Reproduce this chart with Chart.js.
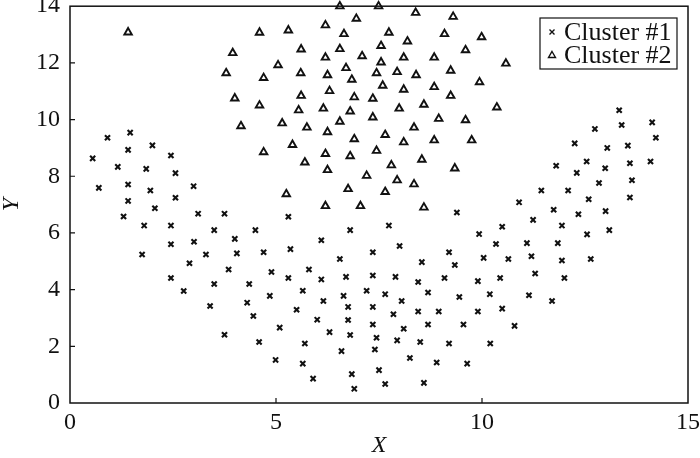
<!DOCTYPE html>
<html>
<head>
<meta charset="utf-8">
<script src="https://cdn.jsdelivr.net/npm/chart.js@4/dist/chart.umd.min.js"></script>
<style>
html,body{margin:0;padding:0;background:#fff;}
#wrap{width:700px;height:458px;}
</style>
</head>
<body>
<div id="wrap"><canvas id="c" width="700" height="458"></canvas></div>
<script>
const seriesLabels = ['Cluster #1', 'Cluster #2'];
const xTicks = [0, 5, 10, 15];
const yTicks = [0, 2, 4, 6, 8, 10, 12, 14];

const cluster1X = [0.91,1.46,1.41,2.00,0.55,2.45,1.16,1.85,2.56,0.70,1.41,1.95,3.00,1.41,2.56,2.06,
1.30,3.11,3.75,1.80,2.45,3.50,4.50,2.45,3.01,4.00,1.75,3.30,4.05,4.70,2.90,3.85,4.89,2.45,3.50,4.35,2.76,4.30,4.85,3.40,4.45,5.09,3.75,4.59,4.99,
5.30,6.80,7.74,9.39,9.93,6.10,5.35,7.35,8.00,9.20,10.04,6.55,8.54,9.34,5.80,5.30,6.10,6.70,7.35,7.90,8.45,9.09,9.90,5.65,6.64,7.20,7.65,8.69,9.45,10.19,6.15,8.05,5.50,6.75,7.35,8.45,8.95,9.90,7.85,6.00,6.75,7.35,8.10,8.69,9.55,6.30,6.80,7.44,7.94,8.50,9.20,10.20,5.70,6.59,7.40,5.65,8.25,8.90,9.64,5.90,6.84,7.50,7.65,8.59,6.90,
10.90,11.74,12.34,13.00,11.24,10.49,11.94,12.55,13.09,10.34,11.09,11.84,10.64,11.20,11.94,12.64,10.44,11.29,12.00,11.14,11.70,10.49,10.79,
13.33,13.39,14.13,14.22,12.74,12.25,13.04,13.54,11.80,12.54,12.99,13.59,14.09,12.30,12.84,13.64,11.44,12.09,12.59,13.59];
const cluster1Y = [9.36,9.54,8.93,9.09,8.63,8.73,8.33,8.26,8.11,7.59,7.71,7.50,7.65,7.13,7.24,6.87,
6.58,6.68,6.68,6.26,6.26,6.10,6.10,5.60,5.69,5.79,5.24,5.24,5.28,5.32,4.93,4.71,4.62,4.41,4.20,4.20,3.95,3.54,3.78,3.42,3.07,2.66,2.41,2.15,1.52,
6.57,6.10,6.26,6.72,5.96,5.74,5.43,5.32,5.54,5.32,5.12,5.08,4.97,4.87,4.71,4.41,4.36,4.45,4.50,4.45,4.27,4.41,4.30,3.96,3.78,3.96,3.84,3.90,3.74,3.84,3.60,3.60,3.29,3.39,3.39,3.23,3.23,3.23,3.13,2.94,2.93,2.77,2.62,2.77,2.77,2.50,2.40,2.30,2.21,2.15,2.10,2.10,2.10,1.83,1.89,1.39,1.59,1.43,1.39,0.86,1.02,1.16,0.67,0.71,0.50,
7.08,6.82,6.66,6.77,6.46,6.22,6.26,5.95,6.10,5.61,5.64,5.64,5.08,5.18,5.03,5.08,4.41,4.57,4.41,3.80,3.60,3.33,2.72,
10.33,9.81,9.90,9.36,9.67,9.16,9.00,9.08,8.37,8.52,8.28,8.46,8.52,8.12,7.76,7.86,7.50,7.50,7.19,7.25];

const cluster2X = [1.41,4.60,3.95,5.05,3.79,4.70,4.00,4.60,4.15,5.15,4.70,
6.55,7.49,8.39,9.30,6.95,5.30,6.20,6.65,7.74,9.09,9.99,8.19,5.61,6.55,7.55,9.60,6.20,7.09,8.10,8.84,7.55,5.60,6.25,6.70,7.44,7.94,8.40,9.24,6.84,7.59,8.10,8.84,9.94,5.61,6.30,6.90,7.35,9.24,5.55,6.15,6.80,7.99,8.59,7.35,5.75,6.55,6.25,8.35,8.95,9.60,5.40,6.90,7.65,8.10,8.84,9.75,6.20,6.80,7.44,5.70,6.25,7.80,8.54,9.34,7.20,7.94,8.35,6.75,7.65,5.25,6.20,7.05,8.59,10.58,10.36];
const cluster2Y = [13.08,13.07,12.35,11.92,11.64,11.47,10.75,10.50,9.77,9.87,8.85,
14.00,14.00,13.77,13.63,13.56,13.15,13.33,13.02,13.07,13.02,12.91,12.76,12.48,12.49,12.60,12.45,12.19,12.24,12.19,12.19,12.02,11.64,11.57,11.82,11.64,11.68,11.57,11.73,11.41,11.20,11.06,11.15,11.32,10.84,11.01,10.79,10.74,10.84,10.33,10.39,10.29,10.39,10.53,10.08,9.72,9.93,9.56,9.72,10.03,9.98,9.11,9.31,9.46,9.20,9.27,9.27,8.79,8.71,8.90,8.49,8.22,8.39,8.59,8.28,8.02,7.86,7.72,7.55,7.45,7.37,6.95,6.95,6.90,11.98,10.43];

const toPts = (xs, ys) => xs.map((x, i) => ({x: x, y: ys[i]}));
const INK = '#111';
const FONT = "'Liberation Serif', 'DejaVu Serif', serif";

const framePlugin = {
  id: 'frame',
  afterDraw(chart) {
    const ctx = chart.ctx, a = chart.chartArea;
    const xs = chart.scales.x, ys = chart.scales.y;
    ctx.save();
    ctx.strokeStyle = INK;
    ctx.lineWidth = 1.5;
    ctx.strokeRect(a.left, a.top, a.right - a.left, a.bottom - a.top);
    ctx.lineWidth = 1.2;
    ctx.beginPath();
    xTicks.forEach(v => {
      if (v === xTicks[0] || v === xTicks[xTicks.length - 1]) return;
      const px = xs.getPixelForValue(v);
      ctx.moveTo(px, a.bottom); ctx.lineTo(px, a.bottom - 5);
    });
    yTicks.forEach(v => {
      if (v === yTicks[0] || v === yTicks[yTicks.length - 1]) return;
      const py = ys.getPixelForValue(v);
      ctx.moveTo(a.left, py); ctx.lineTo(a.left + 5, py);
    });
    ctx.stroke();

    // legend box
    const bx = 540, by = 18, bw = 137, bh = 51;
    ctx.fillStyle = '#fff';
    ctx.fillRect(bx, by, bw, bh);
    ctx.lineWidth = 1.2;
    ctx.strokeRect(bx, by, bw, bh);
    const rows = [by + 14, by + 37];
    ctx.lineWidth = 1.4;
    ctx.beginPath();
    const mx = 552;
    ctx.moveTo(mx - 2.5, rows[0] - 2.5); ctx.lineTo(mx + 2.5, rows[0] + 2.5);
    ctx.moveTo(mx + 2.5, rows[0] - 2.5); ctx.lineTo(mx - 2.5, rows[0] + 2.5);
    ctx.stroke();
    ctx.beginPath();
    ctx.moveTo(mx, rows[1] - 3.5);
    ctx.lineTo(mx + 3.5, rows[1] + 2.5);
    ctx.lineTo(mx - 3.5, rows[1] + 2.5);
    ctx.closePath();
    ctx.stroke();
    ctx.fillStyle = INK;
    ctx.font = "26px " + FONT;
    ctx.textBaseline = 'middle';
    ctx.textAlign = 'left';
    ctx.fillText(seriesLabels[0], 564, rows[0] + 1);
    ctx.fillText(seriesLabels[1], 564, rows[1] + 1);
    ctx.restore();
  }
};

new Chart(document.getElementById('c'), {
  type: 'scatter',
  data: {
    datasets: [
      {
        label: seriesLabels[0],
        data: toPts(cluster1X, cluster1Y),
        pointStyle: 'crossRot',
        pointRadius: 3.6,
        pointBorderWidth: 2.1,
        borderColor: INK,
        backgroundColor: INK,
        clip: false
      },
      {
        label: seriesLabels[1],
        data: toPts(cluster2X, cluster2Y),
        pointStyle: 'triangle',
        pointRadius: 4.3,
        pointBorderWidth: 1.9,
        borderColor: INK,
        backgroundColor: 'rgba(255,255,255,0)',
        clip: false
      }
    ]
  },
  options: {
    responsive: false,
    animation: false,
    events: [],
    layout: { padding: { top: 5, right: 12, left: 0, bottom: 0 } },
    plugins: { legend: { display: false }, tooltip: { enabled: false } },
    scales: {
      x: {
        type: 'linear',
        min: 0, max: 15,
        afterBuildTicks: s => { s.ticks = xTicks.map(v => ({value: v})); },
        afterFit: s => { s.height = 55; s.paddingLeft = 0; s.paddingRight = 0; },
        grid: { display: false, drawTicks: false },
        border: { display: false },
        ticks: { color: INK, font: { family: FONT, size: 24 }, padding: 5, maxRotation: 0 },
        title: { display: true, text: 'X', color: INK, font: { family: FONT, size: 24, style: 'italic', lineHeight: 1 }, padding: { top: 0, bottom: 0 } }
      },
      y: {
        type: 'linear',
        min: 0, max: 14,
        afterBuildTicks: s => { s.ticks = yTicks.map(v => ({value: v})); },
        afterFit: s => { s.width = 70; s.paddingTop = 0; s.paddingBottom = 0; },
        grid: { display: false, drawTicks: false },
        border: { display: false },
        ticks: { color: INK, font: { family: FONT, size: 24 }, padding: 10 },
        title: { display: true, text: 'Y', color: INK, font: { family: FONT, size: 24, style: 'italic', lineHeight: 1 }, padding: { top: 0, bottom: 0 } }
      }
    }
  },
  plugins: [framePlugin]
});
</script>
</body>
</html>
